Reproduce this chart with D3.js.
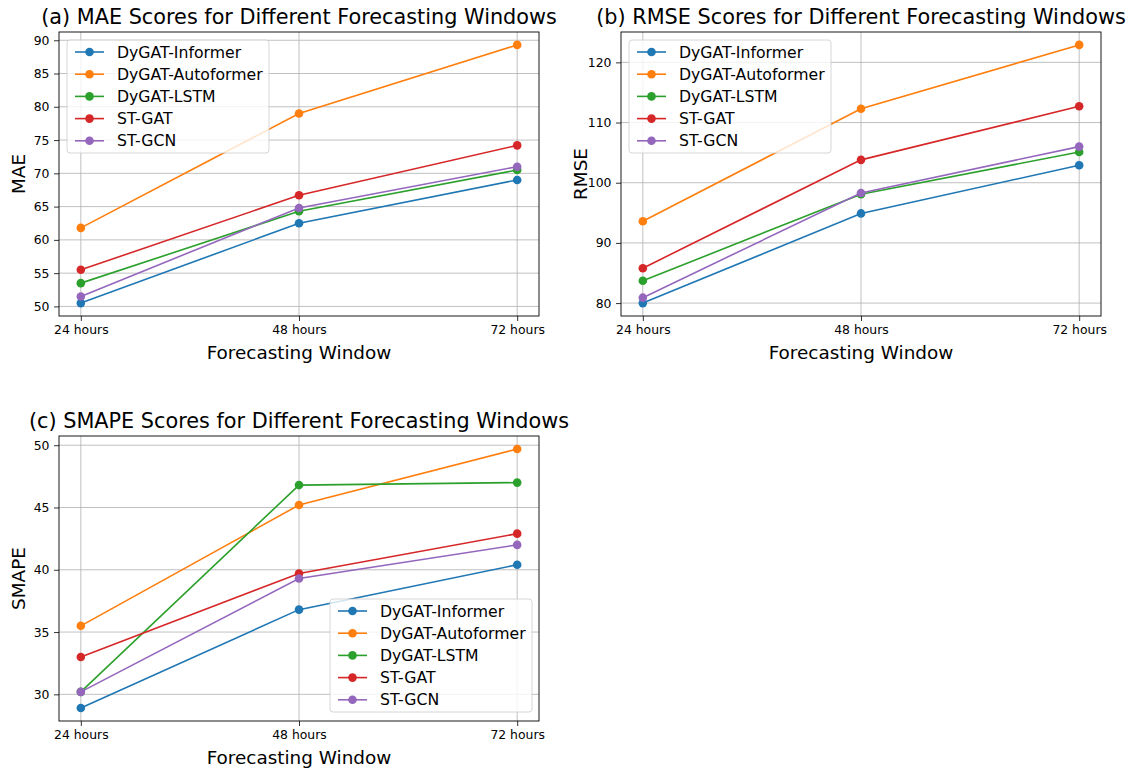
<!DOCTYPE html>
<html lang="en">
<head>
<meta charset="UTF-8">
<script src="https://d3js.org/d3.v7.min.js"></script>
<title>Forecasting windows</title>
<style>
  body { margin: 0; background: #fff; }
  text { font-family: "DejaVu Sans", sans-serif; fill: #000; }
</style>
</head>
<body>
<svg id="chart" width="1138" height="769"></svg>
<script>
// categories and series
const windows = ["24 hours", "48 hours", "72 hours"];
const models = ["DyGAT-Informer", "DyGAT-Autoformer", "DyGAT-LSTM", "ST-GAT", "ST-GCN"];
const colors = ["#1f77b4", "#ff7f0e", "#2ca02c", "#d62728", "#9467bd"];

const maeValues = [
  [50.5, 62.5, 69.0],
  [61.8, 79.0, 89.3],
  [53.5, 64.3, 70.5],
  [55.5, 66.7, 74.2],
  [51.5, 64.8, 71.0]
];
const rmseValues = [
  [80.0, 94.9, 102.9],
  [93.6, 112.3, 122.9],
  [83.7, 98.1, 105.1],
  [85.8, 103.8, 112.7],
  [80.9, 98.3, 106.0]
];
const smapeValues = [
  [28.9, 36.8, 40.4],
  [35.5, 45.2, 49.7],
  [30.2, 46.8, 47.0],
  [33.0, 39.7, 42.9],
  [30.2, 39.3, 42.0]
];

const maeTicks = [50, 55, 60, 65, 70, 75, 80, 85, 90];
const rmseTicks = [80, 90, 100, 110, 120];
const smapeTicks = [30, 35, 40, 45, 50];

const svg = d3.select("#chart");

function drawPanel(p) {
  const g = svg.append("g").attr("transform", `translate(${p.left},${p.top})`);
  const w = p.width, h = p.height;

  // matplotlib style 5% margins
  const x = d3.scaleLinear().domain([-0.1, 2.1]).range([0, w]);
  const all = p.values.flat();
  const lo = d3.min(all), hi = d3.max(all), pad = (hi - lo) * 0.05;
  const y = d3.scaleLinear().domain([lo - pad, hi + pad]).range([h, 0]);

  // grid
  g.append("g").selectAll("line").data(windows).join("line")
    .attr("x1", (d, i) => x(i)).attr("x2", (d, i) => x(i))
    .attr("y1", 0).attr("y2", h)
    .style("stroke", "#b0b0b0").style("stroke-width", 0.8);
  g.append("g").selectAll("line").data(p.ticks).join("line")
    .attr("x1", 0).attr("x2", w)
    .attr("y1", d => y(d)).attr("y2", d => y(d))
    .style("stroke", "#b0b0b0").style("stroke-width", 0.8);

  // axes
  const xAxis = d3.axisBottom(x).tickValues([0, 1, 2]).tickFormat(i => windows[i])
    .tickSizeOuter(0).tickSize(5).tickPadding(4.5);
  const yAxis = d3.axisLeft(y).tickValues(p.ticks).tickSizeOuter(0).tickSize(5).tickPadding(4.5);
  const xa = g.append("g").attr("transform", `translate(0,${h})`).call(xAxis);
  const ya = g.append("g").call(yAxis);
  [xa, ya].forEach(a => {
    a.select(".domain").remove();
    a.selectAll("text").style("font-size", "12.4px").style("font-family", "DejaVu Sans");
    a.selectAll("line").style("stroke", "#000").style("stroke-width", 0.8);
  });

  // series
  const line = d3.line().x((d, i) => x(i)).y(d => y(d));
  p.values.forEach((vals, s) => {
    g.append("path").datum(vals).attr("d", line)
      .style("fill", "none").style("stroke", colors[s]).style("stroke-width", 1.6);
    g.append("g").selectAll("circle").data(vals).join("circle")
      .attr("cx", (d, i) => x(i)).attr("cy", d => y(d)).attr("r", 4.3)
      .style("fill", colors[s]);
  });

  // frame
  g.append("rect").attr("width", w).attr("height", h)
    .style("fill", "none").style("stroke", "#000").style("stroke-width", 0.9);

  // titles
  g.append("text").attr("x", w / 2).attr("y", -8).attr("text-anchor", "middle")
    .style("font-size", "20.8px").text(p.title);
  g.append("text").attr("x", w / 2).attr("y", h + 43).attr("text-anchor", "middle")
    .style("font-size", "18.4px").text("Forecasting Window");
  g.append("text").attr("transform", `translate(${-34},${h / 2}) rotate(-90)`)
    .attr("text-anchor", "middle").style("font-size", "18.4px").text(p.ylabel);

  // legend
  const lw = 202, lh = 113, rowH = 22.2;
  const lx = p.legend === "upper left" ? 8 : w - lw - 7;
  const ly = p.legend === "upper left" ? 8 : h - lh - 9;
  const lg = g.append("g").attr("transform", `translate(${lx},${ly})`);
  lg.append("rect").attr("width", lw).attr("height", lh).attr("rx", 3)
    .style("fill", "#fff").style("fill-opacity", 0.8).style("stroke", "#cccccc").style("stroke-width", 0.8);
  const rows = lg.selectAll("g.row").data(models).join("g").attr("class", "row")
    .attr("transform", (d, i) => `translate(0,${12 + i * rowH})`);
  rows.append("line").attr("x1", 8).attr("x2", 37).attr("y1", 0).attr("y2", 0)
    .style("stroke", (d, i) => colors[i]).style("stroke-width", 1.6);
  rows.append("circle").attr("cx", 22.5).attr("cy", 0).attr("r", 4.3)
    .style("fill", (d, i) => colors[i]);
  rows.append("text").attr("x", 50).attr("y", 0).attr("dy", "0.35em")
    .style("font-size", "15.7px").text(d => d);
}

drawPanel({ left: 59, top: 32, width: 480, height: 284, values: maeValues, ticks: maeTicks,
  title: "(a) MAE Scores for Different Forecasting Windows", ylabel: "MAE", legend: "upper left" });
drawPanel({ left: 621, top: 32, width: 480, height: 284, values: rmseValues, ticks: rmseTicks,
  title: "(b) RMSE Scores for Different Forecasting Windows", ylabel: "RMSE", legend: "upper left" });
drawPanel({ left: 59, top: 436, width: 480, height: 285, values: smapeValues, ticks: smapeTicks,
  title: "(c) SMAPE Scores for Different Forecasting Windows", ylabel: "SMAPE", legend: "lower right" });
</script>
</body>
</html>
